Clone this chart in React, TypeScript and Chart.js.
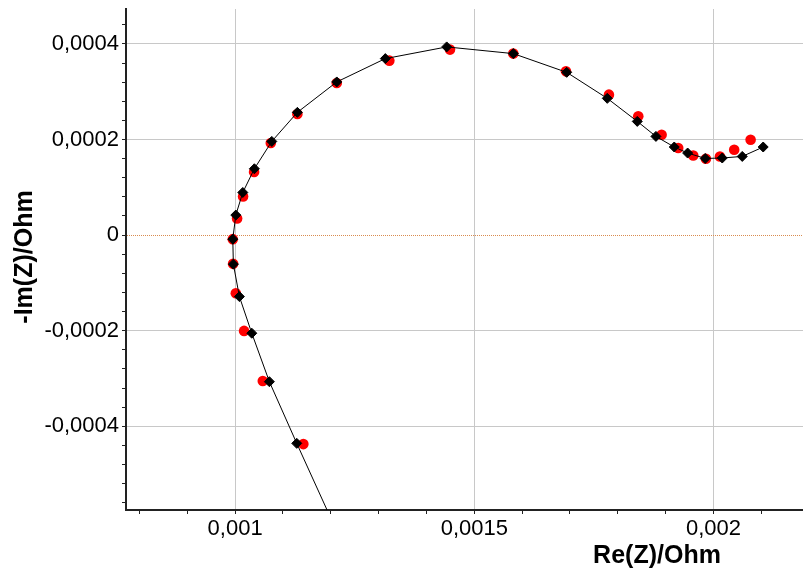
import React, { useEffect, useRef } from "react";
import { Chart, registerables } from "chart.js";

Chart.register(...registerables);

// Measured impedance (Re, -Im) in Ohm
const measRe = [
  0.0020775, 0.0020432, 0.0020134, 0.0019841, 0.0019576, 0.0019262, 0.0018915,
  0.0018427, 0.0017814, 0.0016916, 0.0015815, 0.0014492, 0.0013224, 0.0012125,
  0.0011302, 0.0010746, 0.0010397, 0.0010167, 0.0010042, 0.0009952, 0.0009958,
  0.0010015, 0.0010188, 0.0010579, 0.0011427,
];
const measIm = [
  0.0001996, 0.0001786, 0.0001646, 0.0001598, 0.0001667, 0.0001822, 0.00021,
  0.0002484, 0.0002938, 0.0003426, 0.0003797, 0.0003881, 0.000365, 0.0003183,
  0.0002534, 0.0001927, 0.0001319, 0.0000808, 0.0000348, -0.0000084, -0.0000601,
  -0.0001215, -0.0002004, -0.0003051, -0.0004371,
];

// Fitted impedance (Re, -Im) in Ohm
const fitRe = [
  0.0021038, 0.00206, 0.0020182, 0.0019826, 0.0019459, 0.0019179, 0.0018796,
  0.0018406, 0.0017779, 0.0016931, 0.0015815, 0.0014423, 0.001314, 0.0012125,
  0.0011302, 0.0010767, 0.0010403, 0.0010161, 0.0010015, 0.0009952, 0.0009964,
  0.001009, 0.0010349, 0.0010717, 0.0011289, 0.00124,
];
const fitIm = [
  0.0001843, 0.0001646, 0.0001613, 0.0001604, 0.0001717, 0.0001843, 0.0002065,
  0.0002379, 0.0002861, 0.0003405, 0.0003797, 0.0003937, 0.0003692, 0.0003204,
  0.0002568, 0.000196, 0.0001388, 0.0000892, 0.0000419, -0.0000084, -0.0000607,
  -0.0001286, -0.0002052, -0.0003066, -0.0004356, -0.00068,
];

// Axis ranges and ticks
const xMin = 0.000772;
const xMax = 0.002187;
const yMin = -0.000575;
const yMax = 0.000473;
const xMajorTicks = [0.001, 0.0015, 0.002];
const yMajorTicks = [-0.0004, -0.0002, 0, 0.0002, 0.0004];
const xMinorStep = 0.0001;
const yMinorStep = 0.00004;

const xTitle = "Re(Z)/Ohm";
const yTitle = "-Im(Z)/Ohm";

const fmt = (v: number) => {
  if (Math.abs(v) < 1e-12) return "0";
  return String(parseFloat(v.toPrecision(6))).replace(".", ",");
};

const isMajor = (v: number, majors: number[]) =>
  majors.some((m) => Math.abs(v - m) < 1e-9);

const buildTicks = (min: number, max: number, step: number) => {
  const out: { value: number }[] = [];
  const start = Math.ceil(min / step - 1e-6);
  const end = Math.floor(max / step + 1e-6);
  for (let i = start; i <= end; i++) {
    const v = parseFloat((i * step).toPrecision(10));
    if (v > min && v < max) out.push({ value: v });
  }
  return out;
};

const titlePlugin = {
  id: "axisTitles",
  afterDraw(chart: any) {
    const ctx = chart.ctx;
    ctx.save();
    ctx.fillStyle = "#000";
    ctx.font = "bold 25px 'Liberation Sans', Arial, sans-serif";
    ctx.textAlign = "center";
    ctx.textBaseline = "alphabetic";
    ctx.fillText(xTitle, 657, 563);
    ctx.translate(32, 257);
    ctx.rotate(-Math.PI / 2);
    ctx.fillText(yTitle, 0, 0);
    ctx.restore();
  },
};

const zeroPad = (scale: any) => {
  scale.paddingTop = 0;
  scale.paddingBottom = 0;
  scale.paddingLeft = 0;
  scale.paddingRight = 0;
};

export default function App() {
  const ref = useRef<HTMLCanvasElement>(null);

  useEffect(() => {
    document.body.style.margin = "0";
    const canvas = ref.current;
    if (!canvas) return;
    const fitData = fitRe.map((x, i) => ({ x, y: fitIm[i] }));
    const measData = measRe.map((x, i) => ({ x, y: measIm[i] }));
    const tickFont = { family: "'Liberation Sans', Arial, sans-serif", size: 22 };

    const chart = new Chart(canvas, {
      type: "scatter",
      data: {
        datasets: [
          {
            label: "Fit",
            data: fitData,
            showLine: true,
            borderColor: "#000",
            borderWidth: 1,
            backgroundColor: "#000",
            pointStyle: "rectRot",
            pointRadius: 5,
            pointBorderWidth: 1,
            pointBorderColor: "#000",
            pointBackgroundColor: "#000",
            tension: 0,
          },
          {
            label: "Measured",
            data: measData,
            showLine: false,
            pointStyle: "circle",
            pointRadius: 5.3,
            pointBorderWidth: 0,
            pointBackgroundColor: "#ff0000",
            backgroundColor: "#ff0000",
            borderColor: "#ff0000",
          },
        ],
      },
      options: {
        responsive: false,
        animation: false,
        devicePixelRatio: 1,
        layout: { autoPadding: false, padding: { top: 9, right: 0, left: 0, bottom: 0 } },
        plugins: {
          legend: { display: false },
          tooltip: { enabled: false },
        },
        scales: {
          x: {
            type: "linear",
            min: xMin,
            max: xMax,
            afterBuildTicks: (axis: any) => {
              axis.ticks = buildTicks(xMin, xMax, xMinorStep);
            },
            afterFit: (scale: any) => {
              scale.height = 58;
              zeroPad(scale);
            },
            grid: {
              color: (c: any) =>
                c.tick && isMajor(c.tick.value, xMajorTicks) ? "#c8c8c8" : "rgba(0,0,0,0)",
              tickColor: "#222",
              tickLength: 4,
              lineWidth: 1,
            },
            border: { color: "#222", width: 2 },
            ticks: {
              autoSkip: false,
              maxRotation: 0,
              padding: 2,
              color: "#000",
              font: tickFont,
              callback: (v: any) => (isMajor(Number(v), xMajorTicks) ? fmt(Number(v)) : ""),
            },
          },
          y: {
            type: "linear",
            min: yMin,
            max: yMax,
            afterBuildTicks: (axis: any) => {
              axis.ticks = buildTicks(yMin, yMax, yMinorStep);
            },
            afterFit: (scale: any) => {
              scale.width = 126;
              zeroPad(scale);
            },
            grid: {
              color: (c: any) => {
                if (!c.tick) return "rgba(0,0,0,0)";
                if (Math.abs(c.tick.value) < 1e-12) return "#d98c50";
                return isMajor(c.tick.value, yMajorTicks) ? "#c8c8c8" : "rgba(0,0,0,0)";
              },
              tickColor: "#222",
              tickLength: 4,
              lineWidth: 1,
            },
            border: {
              color: "#222",
              width: 2,
              dash: (c: any) => (c.tick && Math.abs(c.tick.value) < 1e-12 ? [1, 1] : []),
            },
            ticks: {
              autoSkip: false,
              padding: 3,
              color: "#000",
              font: tickFont,
              callback: (v: any) => (isMajor(Number(v), yMajorTicks) ? fmt(Number(v)) : ""),
            },
          },
        },
      } as any,
      plugins: [titlePlugin],
    });
    return () => chart.destroy();
  }, []);

  return (
    <div style={{ width: 803, height: 568, background: "#fff" }}>
      <canvas ref={ref} width={803} height={568} style={{ display: "block" }} />
    </div>
  );
}
